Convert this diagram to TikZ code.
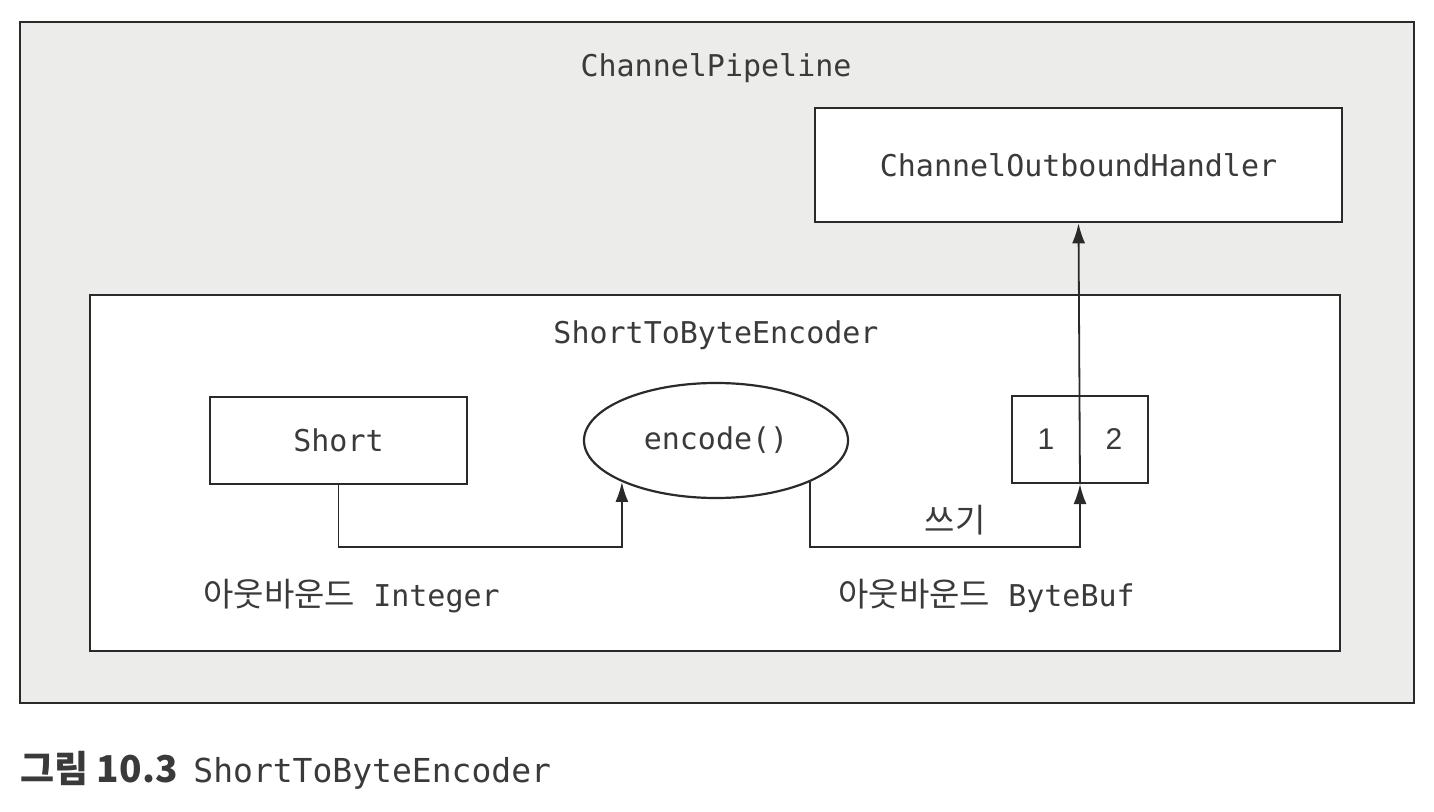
\documentclass[tikz,border=0pt]{standalone}
\usepackage{fontspec}
\newfontfamily\kr{Noto Sans CJK KR}
\newfontfamily\mono{DejaVu Sans Mono}
\newfontfamily\numfont{Liberation Sans}
\usetikzlibrary{shapes.geometric,arrows.meta,calc}
\definecolor{pipegray}{HTML}{ECECEA}
\definecolor{ink}{HTML}{2A2A2A}
\definecolor{txt}{HTML}{3A3A3A}
\newcommand{\krtext}[1]{{\kr\fontsize{16.5}{18}\selectfont #1}}
\tikzset{
  lbl/.style={text=txt,font=\mono\fontsize{15}{18}\selectfont,inner sep=0pt},
  box/.style={draw=ink,line width=1.1pt,fill=white,inner sep=0pt},
  arr/.style={draw=ink,line width=0.9pt,-{Latex[length=10pt,width=6.5pt]}},
  conn/.style={draw=ink,line width=0.9pt}
}
\begin{document}
\begin{tikzpicture}[x=0.5pt,y=-0.5pt]
\useasboundingbox (0,0) rectangle (1434,812);
% outer pipeline
\node[box,fill=pipegray,line width=1.4pt,minimum width=697pt,minimum height=340.5pt] (pipe) at (717,362.5) {};
\node[lbl] (pipelbl) at (716,68) {ChannelPipeline};
% outbound handler
\node[box,line width=1.3pt,minimum width=263.5pt,minimum height=57pt] (coh) at (1078.5,165) {};
\node[lbl] (cohlbl) at (1078.5,165) {ChannelOutboundHandler};
% encoder
\node[box,line width=1.3pt,minimum width=625pt,minimum height=178pt] (encbox) at (715,473) {};
\node[lbl] (enclbl) at (716,335) {ShortToByteEncoder};
% short
\node[box,minimum width=128.5pt,minimum height=43.5pt] (short) at (338.5,440.5) {};
\node[lbl] (shortlbl) at (338.5,440.5) {Short};
% encode ellipse
\node[box,ellipse,minimum width=132pt,minimum height=57.5pt] (enc) at (716,440.5) {};
\node[lbl] (enctxt) at (716,440.5) {encode()};
% bytebuf
\node[box,minimum width=68pt,minimum height=43.5pt] (buf) at (1080,439.5) {};
\node[lbl,font=\numfont\fontsize{15}{18}\selectfont] (b1) at (1046,439.5) {1};
\node[lbl,font=\numfont\fontsize{15}{18}\selectfont] (b2) at (1114,439.5) {2};
% connectors
\coordinate (low) at (0,547);
\draw[arr] (short.south) |- (low -| enc.south west) -- (enc.south west);
\draw[arr] (enc.south east) |- (low -| buf.south) -- (buf.south);
\draw[arr] (buf.south) -- (coh.south);
% labels
\node[lbl] (write) at (955,520) {\krtext{쓰기}};
\node[lbl,anchor=west] (inlbl) at (203,596) {\krtext{아웃바운드} Integer};
\node[lbl,anchor=west] (outlbl) at (838,596) {\krtext{아웃바운드} ByteBuf};
% caption
\node[lbl,anchor=base west,font=\mono\fontsize{16.5}{20}\selectfont] (cap) at (20,782) {{\kr\bfseries\fontsize{18.5}{20}\selectfont 그림 10.3}\hspace{-2pt} ShortToByteEncoder};
\end{tikzpicture}
\end{document}
